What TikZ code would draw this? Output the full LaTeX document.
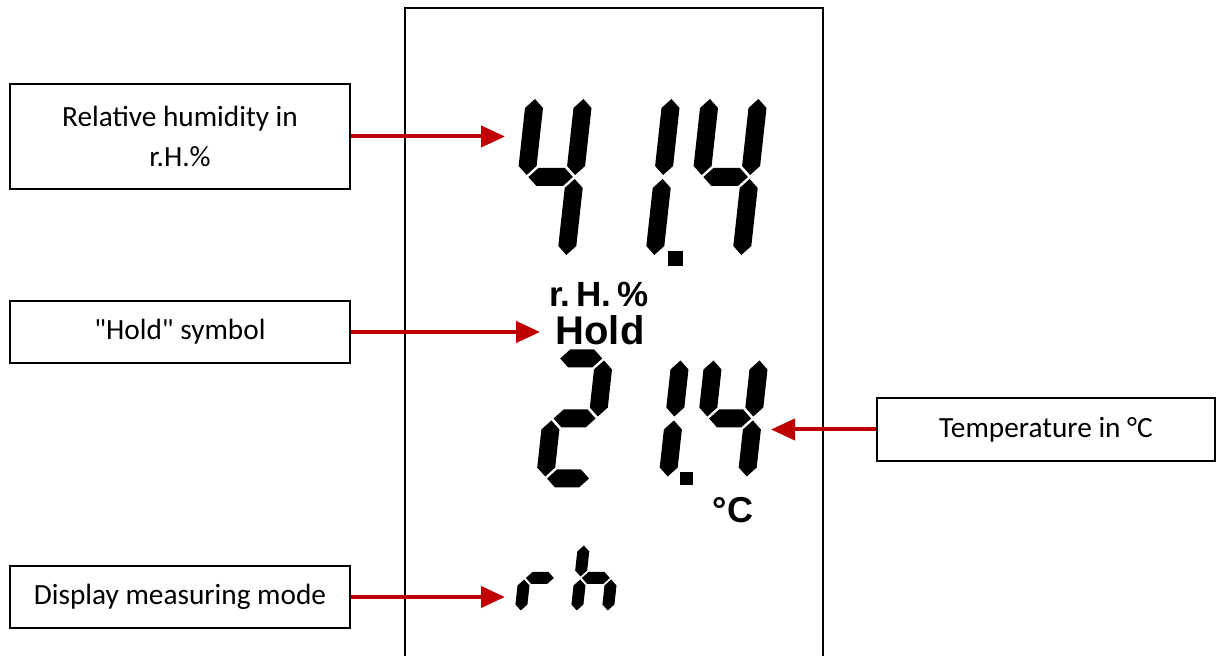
\documentclass[tikz,border=0pt]{standalone}
\usepackage{fontspec}
\setmainfont{Carlito}
\newfontfamily\lcdfont{Liberation Sans}
\usetikzlibrary{arrows.meta}
\definecolor{pointerred}{HTML}{C00000}

% one LCD character: origin x, origin y, segments as x/y/angle
\newcommand{\lcdchar}[3]{%
  \begin{scope}[shift={(#1,#2)}, xslant=\dS]
    \foreach \sx/\sy/\so in {#3} {
      \ifnum\so=0 \pic[transform shape] at (\sx*\dW,\sy*\dH) {seg=\dW};
      \else \pic[transform shape, rotate=90] at (\sx*\dW,\sy*\dH) {seg=\dH}; \fi
    }
  \end{scope}}

\tikzset{
  pics/seg/.style={code={
    \fill (\dG,0) -- ++(\dT/2,\dT/2) -- (#1-\dG-\dT/2,\dT/2) -- (#1-\dG,0)
      -- (#1-\dG-\dT/2,-\dT/2) -- (\dG+\dT/2,-\dT/2) -- cycle;}},
}

\begin{document}
\begin{tikzpicture}[x=1pt, y=1pt,
  labelbox/.style={draw, line width=1.6pt, inner sep=0pt, align=center,
                   font=\fontsize{29.3}{40}\selectfont},
  pointer/.style={-{Triangle[length=24pt, width=21pt]}, line width=4pt, pointerred},
  lcdtext/.style={anchor=base, inner sep=0pt, font=\lcdfont\bfseries},
]
  \useasboundingbox (0,0) rectangle (1216,656);

  % display frame
  \draw[line width=1.8pt] (405,-4) -- (405,648) -- (823,648) -- (823,-4);

  % humidity row
  \def\dS{0.11}\def\dW{48.5}\def\dH{80}\def\dT{18}\def\dG{2}
  \lcdchar{517.6}{399}{0/1/90, 1/1/90, 0/1/0, 1/0/90}
  \lcdchar{605.6}{399}{1/1/90, 1/0/90}
  \lcdchar{692.6}{399}{0/1/90, 1/1/90, 0/1/0, 1/0/90}
  \fill (668,390) rectangle ++(15,15);

  \node[lcdtext, font=\lcdfont\bfseries\fontsize{35}{35}\selectfont] (unit) at (599,349)
    {r.\kern6pt H.\kern6pt\%};
  \node[lcdtext, font=\lcdfont\bfseries\fontsize{40}{40}\selectfont] (hold) at (600,311) {Hold};

  % temperature row
  \def\dS{0.11}\def\dW{46}\def\dH{60}\def\dT{18}\def\dG{2}
  \lcdchar{545}{177.5}{0/2/0, 1/1/90, 0/1/0, 0/0/90, 0/0/0}
  \lcdchar{621.5}{177.5}{1/1/90, 1/0/90}
  \lcdchar{700.5}{177.5}{0/1/90, 1/1/90, 0/1/0, 1/0/90}
  \fill (680,170.5) rectangle ++(13,13);

  \node[lcdtext, font=\lcdfont\bfseries\fontsize{36}{36}\selectfont] (degc) at (733,133) {°C};

  % mode row
  \def\dS{0.11}\def\dW{31}\def\dH{34}\def\dT{12}\def\dG{1.5}
  \lcdchar{520.6}{44}{0/0/90, 0/1/0}
  \lcdchar{576.6}{44}{0/1/90, 0/0/90, 0/1/0, 1/0/90}

  % callouts
  \node[labelbox, minimum width=340pt, minimum height=105pt] (rhbox) at (180,519.5)
    {Relative humidity in\\r.H.\%};
  \node[labelbox, minimum width=340pt, minimum height=62pt] (holdbox) at (180,324)
    {\textquotedbl Hold\textquotedbl{} symbol};
  \node[labelbox, minimum width=340pt, minimum height=62pt] (modebox) at (180,59)
    {Display measuring mode};
  \node[labelbox, minimum width=338pt, minimum height=63pt] (tempbox) at (1046,226.5)
    {Temperature in °C};

  \coordinate (rhtip) at (505,519.5);
  \coordinate (holdtip) at (540,324);
  \coordinate (modetip) at (505,59);
  \coordinate (temptip) at (771,226.5);

  \draw[pointer] (rhbox.east) -- (rhtip);
  \draw[pointer] (holdbox.east) -- (holdtip);
  \draw[pointer] (modebox.east) -- (modetip);
  \draw[pointer] (tempbox.west) -- (temptip);
\end{tikzpicture}
\end{document}
